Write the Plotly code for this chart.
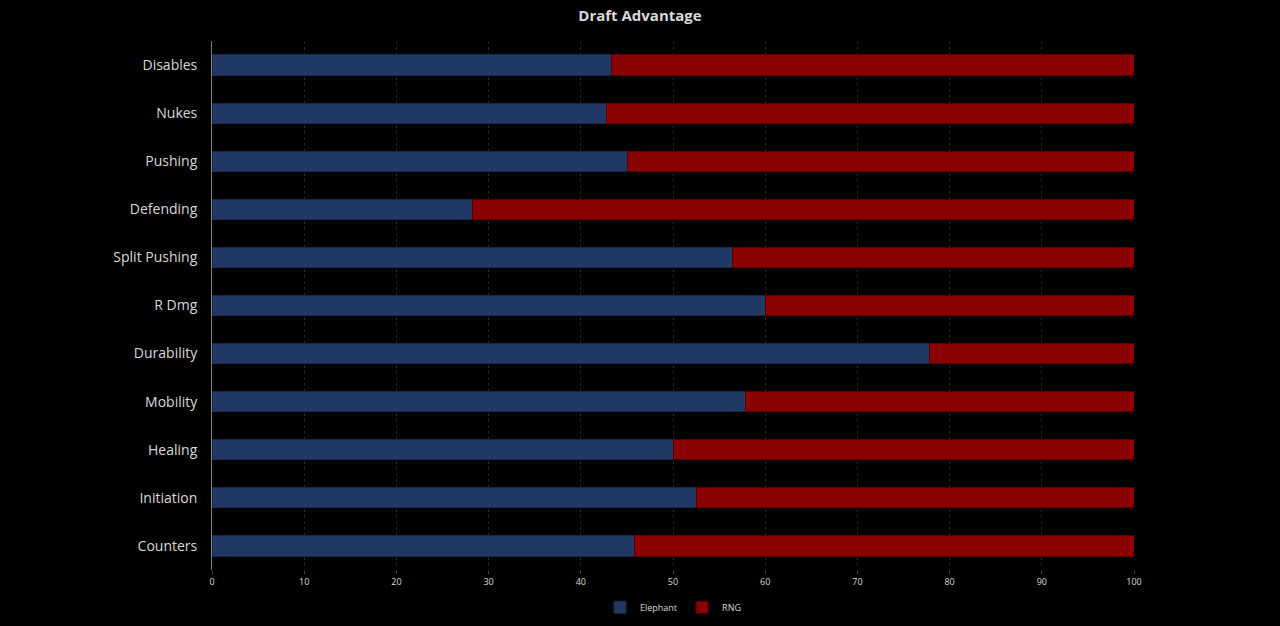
import plotly.graph_objects as go

categories = ["Disables", "Nukes", "Pushing", "Defending", "Split Pushing", "R Dmg",
              "Durability", "Mobility", "Healing", "Initiation", "Counters"]
elephant = [43.3, 42.8, 45.1, 28.2, 56.5, 60.0, 77.8, 57.9, 50.0, 52.6, 45.8]
rng = [round(100 - v, 1) for v in elephant]

fig = go.Figure()
fig.add_trace(go.Bar(
    y=categories, x=elephant, name="Elephant", orientation="h",
    marker=dict(color="#203864", line=dict(color="#1a2a45", width=1))))
fig.add_trace(go.Bar(
    y=categories, x=rng, name="RNG", orientation="h",
    marker=dict(color="#8b0000", line=dict(color="#5a0000", width=1))))

fig.update_layout(
    barmode="stack",
    bargap=0.58,
    width=1280, height=626,
    paper_bgcolor="black",
    plot_bgcolor="black",
    margin=dict(l=212, r=146, t=41, b=56),
    title=dict(text="<b>Draft Advantage</b>", x=0.5, y=0.975, xanchor="center", yanchor="middle",
               font=dict(family="Open Sans", size=15, color="#d9d9d9")),
    font=dict(family="Open Sans", color="#d9d9d9"),
    legend=dict(orientation="h", x=0.5, xanchor="center", yref="container", y=0.03,
                yanchor="middle", font=dict(size=9, color="#d9d9d9"), traceorder="normal",
                itemwidth=30),
    xaxis=dict(range=[0, 100], dtick=10, showgrid=True, gridcolor="#262626", griddash="dot",
               zeroline=False, tickfont=dict(size=9, color="#d9d9d9"), automargin=False,
               ticks="outside", ticklen=3, tickcolor="#404040"),
    yaxis=dict(autorange="reversed", showline=True, linecolor="#7f7f7f", automargin=False,
               tickfont=dict(size=14, color="#d9d9d9"), ticksuffix="   "),
)

fig.write_html("out.html", config={"displayModeBar": False},
               post_script="document.body.style.margin='0';document.body.style.background='black';")
